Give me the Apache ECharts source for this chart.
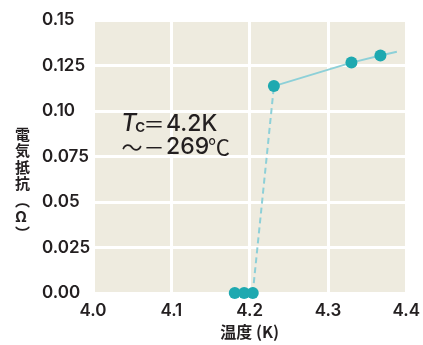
<!DOCTYPE html>
<html><head><meta charset="utf-8">
<script src="https://cdn.jsdelivr.net/npm/echarts@6/dist/echarts.min.js"></script>
<style>html,body{margin:0;padding:0;background:#fff}#c{width:423px;height:345px}</style>
</head><body><div id="c"></div>
<script>
const temps = [4.181, 4.193, 4.204, 4.231, 4.330, 4.367];
const resistance = [0.0, 0.0, 0.0, 0.1137, 0.1266, 0.1305];
const lineEnd = [4.388, 0.1326];
const xTicks = [4.0, 4.1, 4.2, 4.3, 4.4];
const yTicks = [0.00, 0.025, 0.05, 0.075, 0.10, 0.125, 0.15];
const yTickLabels = ['0.00','0.025','0.05','0.075','0.10','0.125','0.15'];

const pts = temps.map((t,i)=>[t,resistance[i]]);
const solid = pts.slice(3).concat([lineEnd]);
const dashed = [pts[2], pts[3]];
const flat = pts.slice(0,3);

const chart = echarts.init(document.getElementById('c'), null, {renderer:'canvas'});
const txt = '#231f20';
const lat = (s, x, y, size, extra) => ({type:'text', z:100, x:x, y:y, style:Object.assign({text:s, fill:txt, font:'500 '+size+'px Inter', verticalAlign:'middle', align:'left'}, extra||{})});
const cjk = (s, x, y, size) => ({type:'text', z:100, x:x, y:y, style:{text:s, fill:txt, font:size+'px "Noto Sans CJK JP"', verticalAlign:'middle', align:'center'}});
chart.setOption({
  animation:false,
  grid:{left:93, right:15, top:20, bottom:43, show:true, backgroundColor:'#eeebdf', borderWidth:0},
  xAxis:{type:'value', min:4.0, max:4.4, interval:0.1,
    axisLine:{show:false}, axisTick:{show:false},
    splitLine:{show:true, lineStyle:{color:'#ffffff', width:3}},
    axisLabel:{margin:9, color:txt, fontSize:17, fontFamily:'Inter', fontWeight:600,
      formatter:v=>v.toFixed(1), showMinLabel:true, showMaxLabel:true},
    name:'温度 (K)', nameLocation:'middle', nameGap:29,
    nameTextStyle:{color:txt, fontSize:16, fontFamily:'Noto Sans CJK JP', fontWeight:'bold'}
  },
  yAxis:{type:'value', min:0, max:0.15, interval:0.025,
    axisLine:{show:false}, axisTick:{show:false},
    splitLine:{show:true, lineStyle:{color:'#ffffff', width:3}},
    axisLabel:{margin:51, align:'left', color:txt, fontSize:17, fontFamily:'Inter', fontWeight:600,
      formatter:v=>{const i=yTicks.findIndex(t=>Math.abs(t-v)<1e-9);return i>=0?yTickLabels[i]:'';}}
  },
  graphic:[
    {type:'text', z:100, left:15, top:126, style:{text:'電\n気\n抵\n抗\n︵\nΩ\n︶', fill:txt, font:'bold 15px "Noto Sans CJK JP"', lineHeight:16.5, align:'left'}},
    lat('T', 121, 124, 24, {font:'italic 500 24px Inter'}),
    lat('c', 135, 127, 18),
    cjk('＝', 154, 124, 21),
    lat('4.2K', 166, 124, 23),
    cjk('～', 132, 147, 21),
    cjk('－', 154, 147, 21),
    lat('269', 166, 147, 23),
    cjk('℃', 219, 147, 22)
  ],
  series:[
    {type:'line', data:flat, symbol:'none', lineStyle:{color:'#8dd0d8', width:2}, z:2},
    {type:'line', data:dashed, symbol:'none', lineStyle:{color:'#8dd0d8', width:2, type:[6,4]}, z:2},
    {type:'line', data:solid, symbol:'none', lineStyle:{color:'#8dd0d8', width:2}, z:2},
    {type:'scatter', data:pts, symbolSize:12, itemStyle:{color:'#1ea9b0', opacity:1}, z:3}
  ]
});
</script></body></html>
